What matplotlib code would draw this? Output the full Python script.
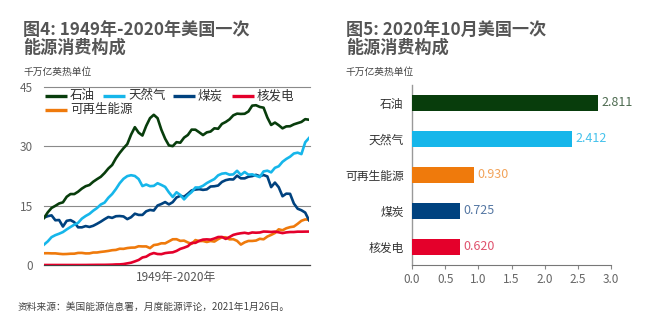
import matplotlib
matplotlib.use("Agg")
import matplotlib.pyplot as plt
import numpy as np

plt.rcParams['font.family'] = ['Noto Sans CJK SC', 'DejaVu Sans']

# ---------------- data ----------------
years = list(range(1949, 2020))
oil = [11.88, 13.32, 14.43, 14.96, 15.56, 15.84, 17.25, 17.94, 17.93, 18.53,
       19.32, 19.92, 20.22, 21.05, 21.70, 22.30, 23.25, 24.40, 25.28, 26.98,
       28.34, 29.52, 30.56, 32.95, 34.84, 33.45, 32.73, 35.17, 37.12, 37.97,
       37.12, 34.20, 31.93, 30.23, 30.05, 31.05, 30.92, 32.20, 32.87, 34.22,
       34.21, 33.55, 32.85, 33.53, 33.74, 34.56, 34.44, 35.67, 36.16, 36.82,
       37.84, 38.26, 38.19, 38.23, 38.81, 40.29, 40.39, 39.96, 39.77, 37.28,
       35.40, 36.01, 35.34, 34.55, 35.04, 35.08, 35.56, 35.87, 36.17, 36.87,
       36.72]
gas = [5.15, 5.97, 7.05, 7.55, 7.91, 8.33, 9.00, 9.61, 10.19, 10.66,
       11.72, 12.39, 12.93, 13.73, 14.40, 15.29, 15.77, 17.00, 17.94, 19.21,
       20.68, 21.79, 22.47, 22.70, 22.51, 21.73, 19.95, 20.35, 19.93, 20.00,
       20.67, 20.24, 19.75, 18.36, 17.20, 18.39, 17.70, 16.59, 17.63, 18.44,
       19.60, 19.60, 20.03, 20.71, 21.23, 21.73, 22.67, 23.09, 23.22, 22.83,
       22.91, 23.82, 22.77, 23.51, 22.83, 22.92, 22.56, 22.22, 23.66, 23.84,
       23.42, 24.57, 24.96, 26.09, 26.81, 27.38, 28.19, 28.40, 28.03, 31.02,
       32.10]
coal = [11.98, 12.35, 12.55, 11.31, 11.37, 9.72, 11.17, 11.35, 10.82, 9.53,
        9.52, 9.84, 9.62, 9.91, 10.41, 10.96, 11.58, 12.14, 11.91, 12.33,
        12.38, 12.27, 11.60, 12.08, 12.97, 12.66, 12.66, 13.58, 13.92, 13.77,
        15.04, 15.42, 15.91, 15.32, 15.89, 17.07, 17.48, 17.26, 18.01, 18.85,
        19.07, 19.17, 18.99, 19.12, 19.84, 19.91, 20.09, 21.00, 21.45, 21.66,
        21.62, 22.58, 21.91, 21.90, 22.32, 22.47, 22.80, 22.45, 22.75, 22.39,
        19.69, 20.83, 19.66, 17.38, 18.04, 17.99, 15.55, 14.23, 13.84, 13.25,
        11.32]
nuclear = [0.0, 0.0, 0.0, 0.0, 0.0, 0.0, 0.0, 0.0, 0.0, 0.002,
           0.002, 0.006, 0.020, 0.026, 0.038, 0.040, 0.043, 0.064, 0.088, 0.142,
           0.154, 0.239, 0.413, 0.584, 0.910, 1.272, 1.900, 2.111, 2.702, 3.024,
           2.776, 2.739, 3.008, 3.131, 3.203, 3.553, 4.076, 4.380, 4.754, 5.587,
           5.602, 6.104, 6.422, 6.479, 6.410, 6.694, 7.075, 7.087, 6.597, 7.068,
           7.610, 7.862, 8.029, 8.145, 7.960, 8.223, 8.161, 8.215, 8.459, 8.426,
           8.355, 8.434, 8.269, 8.062, 8.244, 8.338, 8.337, 8.427, 8.419, 8.438,
           8.452]
renew = [2.97, 2.98, 2.94, 2.94, 2.83, 2.75, 2.78, 2.85, 2.86, 3.05,
         3.06, 2.93, 2.94, 3.15, 3.16, 3.31, 3.42, 3.56, 3.74, 3.81,
         4.11, 4.08, 4.28, 4.39, 4.41, 4.74, 4.69, 4.70, 4.27, 5.04,
         5.17, 5.49, 5.47, 5.98, 6.50, 6.52, 6.10, 6.16, 5.70, 5.34,
         6.30, 6.04, 6.07, 5.82, 6.07, 5.92, 6.54, 7.01, 7.01, 6.49,
         6.52, 6.10, 5.16, 5.73, 6.08, 6.08, 6.18, 6.62, 6.50, 7.19,
         7.61, 8.09, 9.02, 8.78, 9.28, 9.57, 9.72, 10.41, 11.18, 11.52,
         11.45]

left_ticks = [0, 15, 30, 45]

bar_cats = ['石油', '天然气', '可再生能源', '煤炭', '核发电']
bar_lengths = [2.811, 2.412, 0.930, 0.725, 0.725]
bar_labels = ['2.811', '2.412', '0.930', '0.725', '0.620']
bar_ticks = [0.0, 0.5, 1.0, 1.5, 2.0, 2.5, 3.0]

# ---------------- styles ----------------
C_OIL = '#083d0c'
C_GAS = '#16b6ea'
C_COAL = '#00427f'
C_NUC = '#e4002b'
C_REN = '#ef7a0c'
bar_colors = [C_OIL, C_GAS, C_REN, C_COAL, C_NUC]
label_colors = ['#4d6b50', '#45c2ec', '#f2a35a', '#5577a3', '#e0536e']
TITLE_C = '#555555'
TICK_C = '#666666'

W, H = 648, 328
fig = plt.figure(figsize=(W / 100, H / 100), dpi=100)

def fx(px):
    return px / W

def fy(py):
    return 1 - py / H

# ---------------- left chart ----------------
axL = fig.add_axes([fx(44), fy(265), fx(309 - 44), fy(87) - fy(265)])
for vals, col in [(renew, C_REN), (nuclear, C_NUC), (coal, C_COAL), (gas, C_GAS), (oil, C_OIL)]:
    axL.plot(years, vals, color=col, lw=1.9, solid_joinstyle='round', zorder=3)
axL.set_xlim(years[0], years[-1])
axL.set_ylim(0, 45)
for t in left_ticks[1:]:
    axL.axhline(t, color='#8a8a8a', lw=0.8, zorder=1, xmax=1.005, clip_on=False)
axL.axhline(0, color='#444444', lw=0.9, zorder=2, xmax=1.005, clip_on=False)
for s in axL.spines.values():
    s.set_visible(False)
axL.set_xticks([])
axL.set_yticks(left_ticks)
axL.set_yticklabels([str(t) for t in left_ticks], color=TICK_C, fontsize=8.5)
axL.tick_params(axis='y', length=0, pad=8)
axL.text(0.5, -0.07, '1949年-2020年', transform=axL.transAxes, ha='center', va='center',
         fontsize=8.5, color=TITLE_C)

# legend drawn manually
leg_items = [('石油', C_OIL, 45, 96), ('天然气', C_GAS, 103, 96), ('煤炭', C_COAL, 173, 96),
             ('核发电', C_NUC, 232, 96), ('可再生能源', C_REN, 45, 110)]
for name, col, px, py in leg_items:
    x0 = (px - 44) / 265
    x1 = (px + 22 - 44) / 265
    yy = (265 - py) / 178
    axL.plot([x0, x1], [yy, yy], transform=axL.transAxes, color=col, lw=2.4,
             clip_on=False, zorder=5, solid_capstyle='butt')
    axL.text(x1 + 3 / 265, yy, name, transform=axL.transAxes, ha='left', va='center',
             fontsize=9, color='#333333', zorder=5)

# titles left
fig.text(fx(23), fy(30), '图4: 1949年-2020年美国一次', fontsize=12.3, fontweight='bold',
         color=TITLE_C, ha='left', va='center')
fig.text(fx(23), fy(48), '能源消费构成', fontsize=12.3, fontweight='bold',
         color=TITLE_C, ha='left', va='center')
fig.text(fx(23), fy(72), '千万亿英热单位', fontsize=7, color='#444444', ha='left', va='center',
         style='italic')

# ---------------- right chart ----------------
axR = fig.add_axes([fx(412), fy(265), fx(611 - 412), fy(85) - fy(265)])
n = len(bar_cats)
ypos = np.arange(n)[::-1]
axR.barh(ypos, bar_lengths, height=0.44, color=bar_colors, zorder=3)
for y, v, lab, c in zip(ypos, bar_lengths, bar_labels, label_colors):
    axR.text(v + 0.05, y, lab, ha='left', va='center', fontsize=9, color=c)
axR.set_ylim(-0.5, n - 0.5)
axR.set_xlim(0, 3.0)
axR.set_yticks(ypos)
axR.set_yticklabels(bar_cats, fontsize=8.5, color='#333333')
axR.tick_params(axis='y', length=0, pad=6)
axR.set_xticks(bar_ticks)
axR.set_xticklabels([f'{t:.1f}' for t in bar_ticks], fontsize=8.5, color=TICK_C)
axR.tick_params(axis='x', length=3, color='#888888', width=0.8, pad=3)
axR.spines['top'].set_visible(False)
axR.spines['right'].set_visible(False)
axR.spines['left'].set_color('#999999')
axR.spines['left'].set_linewidth(1.0)
axR.spines['bottom'].set_color('#777777')
axR.spines['bottom'].set_linewidth(0.8)

fig.text(fx(346), fy(30), '图5: 2020年10月美国一次', fontsize=12.3, fontweight='bold',
         color=TITLE_C, ha='left', va='center')
fig.text(fx(346), fy(48), '能源消费构成', fontsize=12.3, fontweight='bold',
         color=TITLE_C, ha='left', va='center')
fig.text(fx(346), fy(72), '千万亿英热单位', fontsize=7, color='#444444', ha='left', va='center',
         style='italic')

# footer
fig.text(fx(18), fy(307), '资料来源：美国能源信息署，月度能源评论，2021年1月26日。', fontsize=7,
         color='#444444', ha='left', va='center', style='italic')

fig.savefig('out.png', dpi=100)
